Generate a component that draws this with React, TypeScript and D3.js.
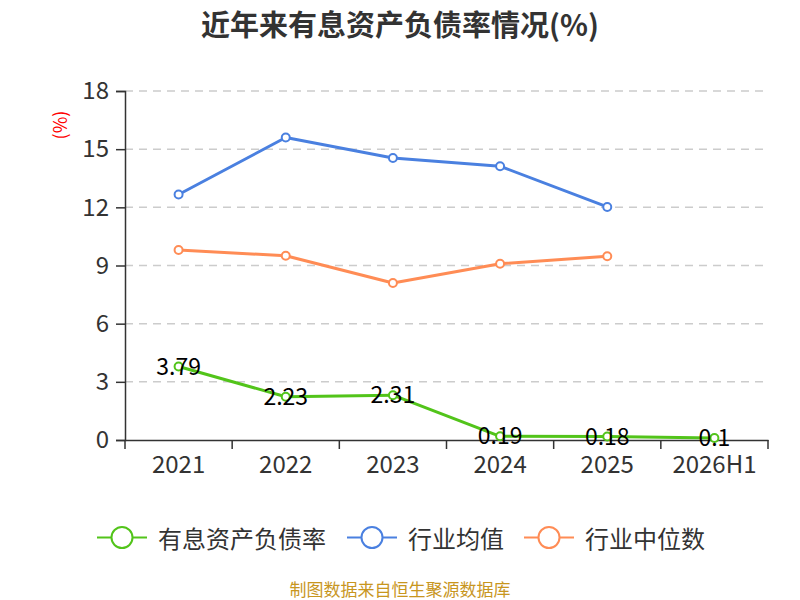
import { useEffect, useRef } from 'react';
import * as d3 from 'd3';

// Chart data
const categories = ['2021', '2022', '2023', '2024', '2025', '2026H1'];
const debtRatio = [3.79, 2.23, 2.31, 0.19, 0.18, 0.1];
const industryMean: (number | null)[] = [12.66, 15.6, 14.54, 14.12, 12.02, null];
const industryMedian: (number | null)[] = [9.8, 9.5, 8.1, 9.09, 9.48, null];
const yTicks = [0, 3, 6, 9, 12, 15, 18];

const FONT = '"Noto Sans CJK SC", "Noto Sans", sans-serif';

export default function App() {
  const svgRef = useRef<SVGSVGElement>(null);

  useEffect(() => {
    document.body.style.margin = '0';
    if (!svgRef.current) return;

    const width = 800;
    const height = 600;
    const margin = { top: 91, right: 32, bottom: 160, left: 125 };
    const innerWidth = width - margin.left - margin.right;
    const innerHeight = height - margin.top - margin.bottom;

    const svg = d3.select(svgRef.current);
    svg.selectAll('*').remove();
    svg.attr('width', width).attr('height', height).style('font-family', FONT);

    const g = svg
      .append('g')
      .attr('transform', `translate(${margin.left},${margin.top})`);

    // Scales
    const xScale = d3
      .scaleBand<string>()
      .domain(categories)
      .range([0, innerWidth]);

    const yScale = d3.scaleLinear().domain([0, 18]).range([innerHeight, 0]);

    const cx = (c: string) => (xScale(c) ?? 0) + xScale.bandwidth() / 2;

    // Grid lines
    g.selectAll('line.grid')
      .data(yTicks.filter((t) => t > 0))
      .enter()
      .append('line')
      .attr('class', 'grid')
      .attr('x1', 0)
      .attr('x2', innerWidth)
      .attr('y1', (d) => yScale(d))
      .attr('y2', (d) => yScale(d))
      .attr('stroke', '#cccccc')
      .attr('stroke-width', 1.5)
      .attr('stroke-dasharray', '8,6');

    // Y axis
    const yAxis = g
      .append('g')
      .call(d3.axisLeft(yScale).tickValues(yTicks).tickSize(9).tickPadding(7));
    yAxis.select('.domain').attr('stroke', '#333').attr('stroke-width', 1.5);
    yAxis.selectAll('.tick line').attr('stroke', '#333').attr('stroke-width', 1.5);
    yAxis
      .selectAll('text')
      .attr('fill', '#333')
      .attr('font-size', '24px')
      .style('font-family', FONT);

    // X axis
    const xAxis = g
      .append('g')
      .attr('transform', `translate(0,${innerHeight})`)
      .call(d3.axisBottom(xScale).tickSize(0).tickPadding(16).tickSizeOuter(0));
    xAxis.select('.domain').attr('stroke', '#333').attr('stroke-width', 1.5);
    xAxis
      .selectAll('text')
      .attr('fill', '#333')
      .attr('font-size', '24px')
      .style('font-family', FONT);

    // x tick marks on band boundaries
    const bounds = categories.map((c) => xScale(c) ?? 0).concat([innerWidth]);
    g.selectAll('line.xtick')
      .data(bounds)
      .enter()
      .append('line')
      .attr('class', 'xtick')
      .attr('x1', (d) => d)
      .attr('x2', (d) => d)
      .attr('y1', innerHeight)
      .attr('y2', innerHeight + 9)
      .attr('stroke', '#333')
      .attr('stroke-width', 1.5);

    // Unit label
    svg
      .append('text')
      .attr('transform', 'translate(62,125) rotate(-90)')
      .attr('text-anchor', 'middle')
      .attr('dominant-baseline', 'middle')
      .attr('fill', '#ff0000')
      .attr('font-size', '18px')
      .text('(%)');

    // Series
    const series = [
      { name: '有息资产负债率', color: '#52c41a', values: debtRatio as (number | null)[], labels: true },
      { name: '行业均值', color: '#4a80e0', values: industryMean, labels: false },
      { name: '行业中位数', color: '#ff8c55', values: industryMedian, labels: false },
    ];

    const line = d3
      .line<{ c: string; v: number | null }>()
      .defined((d) => d.v !== null)
      .x((d) => cx(d.c))
      .y((d) => yScale(d.v as number));

    series.forEach((s) => {
      const pts = categories.map((c, i) => ({ c, v: s.values[i] }));
      g.append('path')
        .datum(pts)
        .attr('fill', 'none')
        .attr('stroke', s.color)
        .attr('stroke-width', 3)
        .attr('stroke-linejoin', 'round')
        .attr('d', line);

      g.selectAll(null)
        .data(pts.filter((p) => p.v !== null))
        .enter()
        .append('circle')
        .attr('cx', (d) => cx(d.c))
        .attr('cy', (d) => yScale(d.v as number))
        .attr('r', 4)
        .attr('fill', '#fff')
        .attr('stroke', s.color)
        .attr('stroke-width', 2);

      if (s.labels) {
        g.selectAll(null)
          .data(pts.filter((p) => p.v !== null))
          .enter()
          .append('text')
          .attr('x', (d) => cx(d.c))
          .attr('y', (d) => yScale(d.v as number) - 2)
          .attr('text-anchor', 'middle')
          .attr('dominant-baseline', 'central')
          .attr('fill', '#000')
          .attr('font-size', '23px')
          .text((d) => String(d.v));
      }
    });

    // Title
    svg
      .append('text')
      .attr('x', width / 2)
      .attr('y', 23)
      .attr('text-anchor', 'middle')
      .attr('dominant-baseline', 'central')
      .attr('fill', '#333')
      .attr('font-size', '29px')
      .attr('font-weight', 'bold')
      .text('近年来有息资产负债率情况(%)');

    // Legend
    const legendX = [97, 347, 524];
    const legendY = 537.5;
    series.forEach((s, i) => {
      const lg = svg.append('g').attr('transform', `translate(${legendX[i]},${legendY})`);
      lg.append('line')
        .attr('x1', 0)
        .attr('x2', 50)
        .attr('y1', 0)
        .attr('y2', 0)
        .attr('stroke', s.color)
        .attr('stroke-width', 2);
      lg.append('circle')
        .attr('cx', 25)
        .attr('cy', 0)
        .attr('r', 10.5)
        .attr('fill', '#fff')
        .attr('stroke', s.color)
        .attr('stroke-width', 2);
      lg.append('text')
        .attr('x', 61)
        .attr('y', 0)
        .attr('dominant-baseline', 'central')
        .attr('fill', '#333')
        .attr('font-size', '24px')
        .text(s.name);
    });

    // Source
    svg
      .append('text')
      .attr('x', width / 2)
      .attr('y', 588)
      .attr('text-anchor', 'middle')
      .attr('dominant-baseline', 'central')
      .attr('fill', '#c8961e')
      .attr('font-size', '17px')
      .text('制图数据来自恒生聚源数据库');
  }, []);

  return <svg ref={svgRef} style={{ display: 'block' }} />;
}
